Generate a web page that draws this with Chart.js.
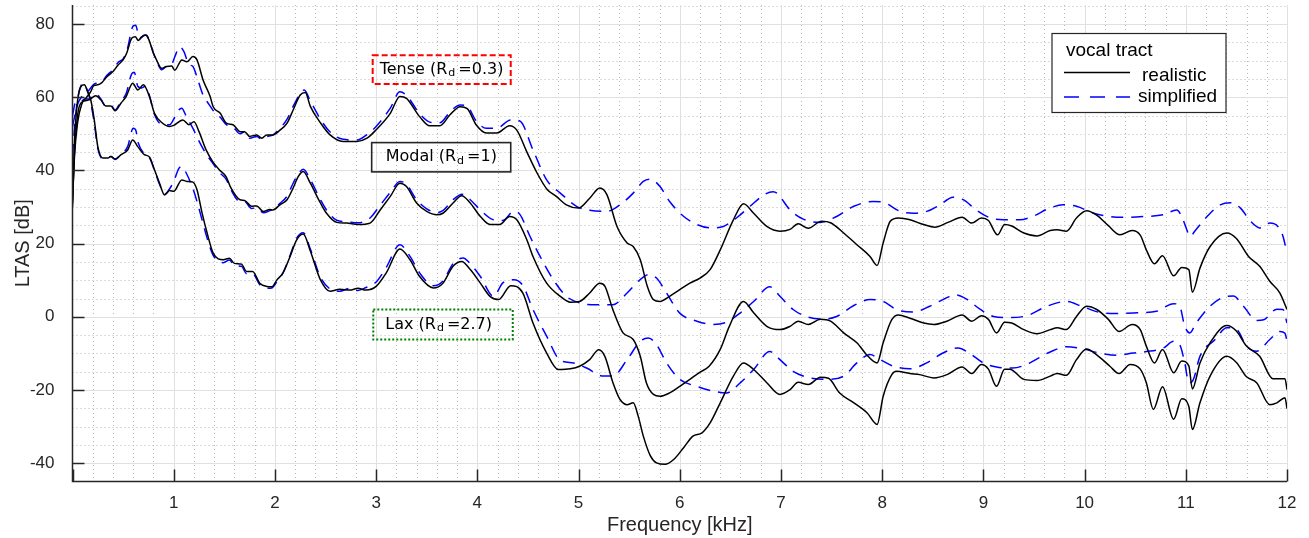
<!DOCTYPE html>
<html lang="en">
<head>
    <meta charset="UTF-8">
    <title>LTAS - realistic vs simplified vocal tract</title>
    <style>
        body {
            margin: 0;
            background: #ffffff;
        }

        #wrap {
            width: 1309px;
            height: 538px;
        }
    </style>
</head>
<body>
    <div id="wrap">
        <canvas id="ltasChart" width="1309" height="538"></canvas>
    </div>

    <script src="https://cdn.jsdelivr.net/npm/chart.js"></script>

    <script>
        // Axis ticks
        const freqTicks = [0, 1, 2, 3, 4, 5, 6, 7, 8, 9, 10, 11, 12];
        const levelTicks = [-40, -20, 0, 20, 40, 60, 80];

        // Curves: [frequency kHz, LTAS dB]
        const tenseRealistic = [
            [0, 31], [0.02, 44], [0.05, 53], [0.09, 58], [0.14, 60], [0.18, 61.5], [0.21, 63.2], [0.25, 63.4],
            [0.29, 64], [0.34, 65.6], [0.40, 67], [0.45, 68.8], [0.50, 70.2], [0.535, 72], [0.585, 76.1],
            [0.62, 76.5], [0.65, 75.5], [0.68, 76.4], [0.72, 77], [0.75, 76], [0.80, 72], [0.83, 70.2],
            [0.88, 67.9], [0.93, 68.4], [0.98, 68.5], [1.01, 67.4], [1.08, 70.2], [1.13, 69.7], [1.19, 71.1],
            [1.23, 70.2], [1.29, 64.7], [1.36, 60.2], [1.39, 57.4], [1.46, 55.6], [1.52, 52.9], [1.59, 52.4],
            [1.655, 50.6], [1.70, 50.6], [1.75, 49.3], [1.82, 49.7], [1.87, 48.8], [1.92, 49.7], [1.98, 49.7],
            [2.05, 51], [2.12, 52.9], [2.18, 56.5], [2.25, 60.6], [2.30, 61.3], [2.35, 57.5], [2.45, 53],
            [2.545, 49.7], [2.675, 47.9], [2.81, 47.9], [2.91, 48.8], [3.0, 51.1], [3.14, 55.6], [3.235, 60.2],
            [3.30, 59.7], [3.43, 54.7], [3.53, 52.2], [3.63, 52.2], [3.73, 55.2], [3.83, 57.4], [3.90, 56.9],
            [3.99, 52.4], [4.09, 50.2], [4.19, 50.2], [4.32, 52.2], [4.39, 51], [4.49, 45], [4.59, 39.3],
            [4.69, 34.8], [4.78, 32.9], [4.88, 30.6], [5.0, 29.7], [5.11, 32.4], [5.21, 35.2], [5.28, 33.4],
            [5.38, 24.7], [5.48, 20.2], [5.54, 19.2], [5.61, 15.6], [5.68, 8.3], [5.74, 4.7], [5.805, 4.2],
            [5.90, 5.6], [6.0, 7.4], [6.10, 9.2], [6.20, 10.6], [6.30, 12.9], [6.40, 18.3], [6.53, 26.5],
            [6.63, 30.9], [6.73, 28.3], [6.86, 24.7], [6.99, 23.4], [7.09, 23.9], [7.17, 25.4], [7.27, 24.2],
            [7.40, 26.1], [7.49, 25.7], [7.62, 22.9], [7.75, 19.7], [7.88, 16.5], [7.95, 14.0], [8.01, 20.2],
            [8.08, 26.1], [8.16, 27.0], [8.275, 26.5], [8.41, 25.2], [8.52, 24.5], [8.65, 25.8], [8.79, 27.2],
            [8.885, 25.6], [8.98, 27.0], [9.05, 26.3], [9.14, 22.4], [9.21, 25.2], [9.28, 24.8], [9.40, 22.9],
            [9.53, 22.1], [9.66, 23.6], [9.73, 23.8], [9.82, 23.4], [9.92, 27.0], [10.02, 29.0], [10.12, 27.8],
            [10.235, 24.9], [10.35, 22.4], [10.47, 23.6], [10.55, 22.3], [10.61, 18.3], [10.69, 14.5],
            [10.77, 16.7], [10.88, 11.2], [10.96, 13.5], [11.03, 12.9], [11.065, 6.7], [11.14, 13.3],
            [11.24, 19.2], [11.405, 22.9], [11.50, 21.4], [11.62, 16.5], [11.73, 13.8], [11.83, 9.7],
            [11.93, 6.5], [12.0, 2.0]
        ];
        const modalRealistic = [
            [0, 32], [0.02, 45], [0.067, 57.5], [0.12, 59], [0.165, 59.3], [0.23, 60.4], [0.28, 59.3],
            [0.33, 57.6], [0.38, 57.6], [0.42, 56.3], [0.48, 58.4], [0.53, 60.2], [0.595, 63.8], [0.645, 62],
            [0.70, 63.4], [0.76, 60.2], [0.81, 55.6], [0.89, 52.9], [0.96, 52], [1.0, 52.3], [1.09, 53.8],
            [1.15, 52.5], [1.20, 53.3], [1.25, 50.6], [1.32, 45.6], [1.385, 42.4], [1.45, 40.2], [1.52, 38.2],
            [1.56, 35.5], [1.655, 32], [1.70, 31.8], [1.77, 30.2], [1.82, 30.3], [1.885, 28.8], [1.95, 29.3],
            [1.98, 29.2], [2.05, 30.6], [2.12, 32], [2.18, 35.2], [2.23, 38.3], [2.28, 39.7], [2.35, 36.5],
            [2.45, 31.1], [2.51, 28.3], [2.61, 25.8], [2.71, 25.6], [2.82, 25.2], [2.94, 25.6], [3.04, 29.2],
            [3.14, 32.9], [3.235, 36.5], [3.30, 35.6], [3.40, 31.1], [3.50, 28.8], [3.60, 27.9], [3.66, 28.3],
            [3.76, 31.1], [3.845, 33.1], [3.93, 31.1], [4.03, 27.4], [4.125, 25.2], [4.22, 25.2], [4.32, 27.4],
            [4.39, 26.5], [4.49, 21], [4.55, 16.5], [4.685, 9.2], [4.82, 5.6], [4.92, 4.0], [5.01, 4.2],
            [5.11, 6.5], [5.21, 9.2], [5.26, 8.4], [5.34, 1.9], [5.44, -4.4], [5.54, -6.2], [5.61, -10.8],
            [5.67, -18], [5.74, -21.2], [5.805, -21.7], [5.90, -20.8], [6.0, -19], [6.10, -17.1], [6.19, -15.3],
            [6.29, -13.5], [6.40, -8.9], [6.49, -2.6], [6.63, 4.2], [6.73, 1.1], [6.86, -2.6], [6.99, -3.5],
            [7.09, -2.6], [7.17, -1.2], [7.27, -2.1], [7.39, -0.7], [7.49, -1.2], [7.62, -4.4], [7.75, -7.1],
            [7.86, -10.8], [7.95, -12.6], [8.01, -7.1], [8.095, -0.8], [8.16, 0.5], [8.275, -0.4], [8.41, -1.7],
            [8.51, -2.1], [8.64, -1.2], [8.79, 0.5], [8.885, -1.2], [8.98, 0.3], [9.05, -0.7], [9.13, -4.4],
            [9.21, -1.5], [9.28, -1.7], [9.40, -3.5], [9.53, -4.6], [9.66, -3.5], [9.73, -3.0], [9.82, -3.5],
            [9.92, 0.1], [10.02, 2.9], [10.12, 2.0], [10.235, -0.7], [10.34, -4.0], [10.47, -2.1], [10.55, -3.5],
            [10.61, -8.0], [10.69, -12.6], [10.77, -8.9], [10.88, -15.3], [10.96, -12.1], [11.03, -13.4],
            [11.065, -19.7], [11.14, -12.6], [11.24, -7.1], [11.405, -2.4], [11.50, -3.9], [11.60, -8.0],
            [11.73, -10.8], [11.86, -16.9], [11.98, -16.9], [12.0, -19.9]
        ];
        const laxRealistic = [
            [0, 30], [0.02, 48], [0.05, 59], [0.085, 63], [0.117, 63.4], [0.15, 61.5], [0.18, 59.3],
            [0.215, 53.8], [0.25, 46.5], [0.30, 43.4], [0.35, 43.4], [0.38, 43.8], [0.42, 43.1], [0.48, 44.3],
            [0.545, 45.6], [0.595, 48.3], [0.645, 46.5], [0.71, 44.3], [0.76, 43.7], [0.81, 40.2], [0.86, 36.5],
            [0.91, 33.3], [0.96, 34.5], [1.0, 34.3], [1.08, 37.4], [1.13, 37.0], [1.19, 36.8], [1.23, 34.7],
            [1.28, 28.4], [1.33, 22.9], [1.39, 17.4], [1.49, 15.6], [1.55, 16], [1.60, 14.6], [1.67, 14.4],
            [1.72, 12.4], [1.78, 12.4], [1.85, 9.2], [1.92, 8.3], [1.97, 8.2], [2.02, 10.1], [2.08, 12],
            [2.15, 16.5], [2.215, 21], [2.28, 22.6], [2.35, 18], [2.45, 10.1], [2.545, 7], [2.64, 7.5],
            [2.74, 7.3], [2.82, 7.8], [2.9, 7.3], [3.0, 8.3], [3.10, 12], [3.235, 18.5], [3.335, 15.6],
            [3.43, 11], [3.565, 7.9], [3.66, 9.2], [3.76, 13.8], [3.845, 15.1], [3.93, 12.9], [4.03, 9.2],
            [4.125, 5.6], [4.21, 4.7], [4.33, 8.5], [4.45, 6.5], [4.55, -1.7], [4.685, -9.9], [4.80, -14.4],
            [4.92, -14.2], [5.01, -13.5], [5.11, -11.7], [5.20, -9], [5.26, -10.8], [5.34, -18], [5.41, -22.6],
            [5.48, -24], [5.54, -23.5], [5.59, -27.2], [5.64, -32.6], [5.71, -38], [5.77, -39.9], [5.855, -40.3],
            [5.94, -39], [6.04, -35.7], [6.13, -32.6], [6.22, -31.7], [6.30, -29], [6.40, -23.5], [6.53, -16.2],
            [6.63, -12.6], [6.73, -14.4], [6.86, -18], [6.99, -21.2], [7.09, -19.9], [7.17, -17.9], [7.27, -18.5],
            [7.39, -16.5], [7.47, -16.8], [7.58, -20.8], [7.72, -23.5], [7.85, -26.2], [7.95, -29.4], [8.01, -21.7],
            [8.095, -15.8], [8.14, -14.9], [8.275, -15.5], [8.37, -15.8], [8.51, -16.7], [8.64, -15.8],
            [8.79, -13.7], [8.885, -15.5], [8.98, -13], [9.05, -14.3], [9.13, -19], [9.21, -14.3], [9.26, -14.3],
            [9.40, -17.1], [9.53, -17.4], [9.66, -16.2], [9.73, -15.5], [9.82, -16], [9.92, -11.7], [10.02, -8.8],
            [10.12, -10.4], [10.25, -13.5], [10.34, -15.5], [10.45, -13], [10.55, -14.3], [10.61, -18],
            [10.68, -25.3], [10.77, -19.1], [10.88, -28], [10.96, -22.4], [11.03, -24.5], [11.065, -30.8],
            [11.14, -23.5], [11.24, -16.2], [11.405, -10.8], [11.50, -12.5], [11.60, -16.4], [11.70, -18],
            [11.83, -24], [11.90, -23.5], [11.98, -22.1], [12.0, -25.1]
        ];
        const tenseSimplified = [
            [0, 52], [0.05, 58], [0.10, 60.5], [0.15, 61.5], [0.21, 63.5], [0.25, 64], [0.30, 64.5], [0.34, 66],
            [0.40, 67.5], [0.45, 69.5], [0.50, 70.5], [0.54, 73], [0.60, 79.5], [0.625, 79.7], [0.65, 77],
            [0.67, 76], [0.70, 76.8], [0.73, 77], [0.76, 75.5], [0.80, 72], [0.83, 70], [0.88, 67.5],
            [0.93, 68.5], [0.98, 69], [1.01, 71], [1.06, 73.8], [1.10, 72.5], [1.15, 69], [1.19, 68.4],
            [1.23, 65.5], [1.29, 60.6], [1.35, 58], [1.40, 56], [1.46, 54.5], [1.52, 52.5], [1.59, 51.8],
            [1.655, 50], [1.70, 50.5], [1.75, 48.8], [1.82, 49.3], [1.87, 48.5], [1.92, 49.2], [1.98, 49.7],
            [2.05, 51.5], [2.12, 54], [2.18, 57.5], [2.25, 61], [2.29, 62], [2.35, 59], [2.45, 54], [2.545, 50.5],
            [2.675, 48.5], [2.81, 48.3], [2.91, 49.8], [3.0, 52], [3.14, 57], [3.235, 61.5], [3.30, 60.5],
            [3.43, 55.5], [3.53, 53.2], [3.63, 53], [3.73, 56], [3.83, 57.9], [3.90, 57.5], [3.99, 53.5],
            [4.09, 51.5], [4.19, 51.5], [4.33, 53.8], [4.42, 53.5], [4.55, 45.6], [4.685, 37.4], [4.82, 33.8],
            [4.98, 30.2], [5.11, 29.1], [5.28, 28.8], [5.41, 30.6], [5.54, 33.8], [5.64, 37], [5.71, 37.6],
            [5.805, 35.6], [5.90, 31.5], [6.04, 27.4], [6.17, 25.2], [6.30, 24.3], [6.43, 24.7], [6.56, 27],
            [6.695, 30.2], [6.83, 33.3], [6.92, 34.2], [6.96, 33.8], [7.09, 29.2], [7.22, 26.7], [7.39, 25.8],
            [7.55, 27.4], [7.72, 30.2], [7.91, 31.5], [8.01, 31.3], [8.18, 28.8], [8.31, 28.3], [8.44, 28.8],
            [8.57, 30.6], [8.70, 32.7], [8.80, 32], [8.93, 29.2], [9.07, 27], [9.20, 26.5], [9.36, 26.5],
            [9.50, 27.6], [9.63, 29.4], [9.79, 30.6], [9.92, 30.2], [10.09, 28.3], [10.25, 27.4], [10.42, 27.2],
            [10.58, 27.4], [10.78, 27.9], [10.91, 29.2], [10.96, 27.4], [11.01, 23.8], [11.04, 22.0], [11.10, 23.8],
            [11.21, 27.4], [11.34, 30.6], [11.44, 31.2], [11.54, 29.7], [11.64, 26.1], [11.73, 24.3], [11.83, 25.6],
            [11.91, 24.7], [11.96, 22.0], [12.0, 17.4]
        ];
        const modalSimplified = [
            [0, 55], [0.03, 58.5], [0.07, 58.5], [0.12, 59.5], [0.17, 59.5], [0.23, 61], [0.28, 59.5], [0.33, 57.5],
            [0.38, 57.8], [0.42, 56.5], [0.48, 59], [0.53, 61], [0.585, 66.4], [0.61, 66.8], [0.645, 63],
            [0.68, 62.5], [0.72, 63], [0.76, 60.5], [0.81, 55.3], [0.89, 52.5], [0.96, 52.5], [1.0, 54],
            [1.05, 56.5], [1.08, 57], [1.12, 55], [1.19, 51.5], [1.25, 48], [1.32, 44.5], [1.385, 42], [1.45, 39.5],
            [1.52, 37.5], [1.56, 35], [1.655, 31.5], [1.70, 31.5], [1.77, 29.6], [1.82, 29.8], [1.885, 28.4],
            [1.95, 29.0], [1.98, 29.4], [2.05, 31], [2.12, 33], [2.18, 36.5], [2.23, 39], [2.28, 40.3],
            [2.35, 37.5], [2.45, 32], [2.51, 29.2], [2.61, 26.4], [2.71, 26], [2.82, 25.7], [2.94, 27],
            [3.04, 30.5], [3.14, 34], [3.235, 37], [3.30, 36.2], [3.40, 32], [3.50, 29.5], [3.60, 28.5],
            [3.66, 29], [3.76, 32], [3.85, 33.5], [3.93, 32], [4.03, 29.2], [4.16, 26.5], [4.25, 26.3],
            [4.36, 28.8], [4.42, 28], [4.52, 22], [4.62, 16.5], [4.75, 10.2], [4.88, 5.6], [5.01, 3.8],
            [5.18, 3.3], [5.34, 3.3], [5.48, 6.5], [5.61, 10.2], [5.69, 11.5], [5.77, 10.6], [5.87, 6.5],
            [6.0, 1.0], [6.17, -1.2], [6.33, -2.1], [6.46, -1.5], [6.60, 1.1], [6.73, 4.2], [6.89, 8.2],
            [6.99, 5.6], [7.12, 2.0], [7.25, 0.1], [7.42, -0.6], [7.55, 0.1], [7.72, 3.1], [7.88, 4.7],
            [8.01, 4.2], [8.14, 2.0], [8.31, 1.3], [8.47, 2.9], [8.60, 4.7], [8.72, 6.0], [8.83, 4.9],
            [8.97, 2.0], [9.10, 0.1], [9.26, -0.2], [9.43, 0.3], [9.63, 2.9], [9.82, 4.2], [9.97, 2.9],
            [10.15, 1.2], [10.32, 0.9], [10.52, 1.1], [10.71, 1.5], [10.88, 3.6], [10.94, 2.9], [10.99, -2.6],
            [11.04, -4.4], [11.10, -1.8], [11.24, 2.9], [11.405, 5.6], [11.47, 5.7], [11.57, 2.9], [11.70, -1.0],
            [11.77, -0.8], [11.90, 2.1], [11.96, 2.0], [12.0, -1.7]
        ];
        const laxSimplified = [
            [0, 44], [0.03, 55], [0.07, 62], [0.107, 63.8], [0.15, 61.5], [0.18, 58.5], [0.215, 53], [0.25, 46],
            [0.30, 43.2], [0.35, 43.6], [0.38, 43.8], [0.42, 43], [0.48, 44.5], [0.545, 46.5], [0.60, 51.5],
            [0.625, 51], [0.65, 47.5], [0.71, 44.5], [0.76, 43.5], [0.81, 40], [0.86, 36.2], [0.91, 33.5],
            [0.96, 35], [1.0, 37], [1.05, 40.5], [1.08, 41.1], [1.12, 39.5], [1.19, 35], [1.23, 31.5],
            [1.28, 26.5], [1.33, 21.5], [1.39, 16.8], [1.49, 14.8], [1.55, 15.5], [1.60, 14], [1.67, 13.8],
            [1.72, 11.8], [1.78, 11.8], [1.85, 8.8], [1.92, 7.8], [1.97, 7.9], [2.02, 9.6], [2.08, 12],
            [2.15, 16.8], [2.215, 21.5], [2.28, 23], [2.35, 18.5], [2.45, 10.8], [2.545, 7.6], [2.64, 7.0],
            [2.74, 7.8], [2.82, 7.2], [2.9, 8], [3.0, 9.5], [3.10, 13.5], [3.235, 19.7], [3.335, 16.5],
            [3.43, 12], [3.565, 8.5], [3.66, 9.8], [3.76, 14.5], [3.86, 16.1], [3.93, 14.5], [4.03, 11],
            [4.16, 5.6], [4.25, 9.2], [4.36, 10.1], [4.45, 8.5], [4.55, 2.0], [4.685, -5.3], [4.82, -11.9],
            [4.95, -12.6], [5.08, -14], [5.245, -16.2], [5.34, -16.2], [5.48, -11.7], [5.61, -6.7], [5.69, -5.8],
            [5.77, -7.6], [5.87, -12.6], [6.0, -17.1], [6.17, -19], [6.33, -20.3], [6.46, -20.8], [6.60, -18],
            [6.73, -14.4], [6.89, -9.5], [6.99, -11.7], [7.12, -14.9], [7.29, -16.7], [7.45, -17.1], [7.62, -16.2],
            [7.75, -12.6], [7.88, -10.3], [7.98, -11.7], [8.11, -13.5], [8.275, -14.2], [8.44, -12.6],
            [8.60, -9.9], [8.75, -8.5], [8.86, -9.9], [9.0, -12.6], [9.13, -13.7], [9.29, -14.0], [9.46, -12.6],
            [9.53, -11.5], [9.66, -9.6], [9.82, -8.2], [9.97, -8.7], [10.15, -9.9], [10.32, -10.5], [10.48, -9.9],
            [10.61, -9.5], [10.78, -8.5], [10.88, -6.7], [10.94, -7.6], [10.99, -12.6], [11.03, -18], [11.07, -17.4],
            [11.14, -10.8], [11.29, -6.2], [11.405, -3.0], [11.50, -3.4], [11.60, -8.0], [11.70, -9.4],
            [11.83, -6.2], [11.93, -4.0], [11.98, -4.5], [12.0, -6.7]
        ];

        const axisColor = '#262626';
        const sansFont = '"Liberation Sans", Arial, Helvetica, sans-serif';
        const noteFont = '"DejaVu Sans", sans-serif';

        function toPoints(curve) {
            return curve.map(p => ({ x: p[0], y: p[1] }));
        }

        function lineSet(label, curve, color, dashed) {
            return {
                label: label,
                data: toPoints(curve),
                borderColor: color,
                borderWidth: 1.5,
                borderDash: dashed ? [12, 8] : [],
                pointRadius: 0,
                fill: false,
                cubicInterpolationMode: 'monotone'
            };
        }

        // Text boxes (corners given in kHz / dB)
        const notes = [
            { pre: 'Tense (R', post: '=0.3)', x0: 2.966, x1: 4.33, y0: 71.5, y1: 63.6, pad: 7, color: '#ff0000', dash: [6, 3], width: 2 },
            { pre: 'Modal (R', post: '=1)', x0: 2.956, x1: 4.33, y0: 47.6, y1: 39.6, pad: 14, color: '#262626', dash: [], width: 1.6 },
            { pre: 'Lax (R', post: '=2.7)', x0: 2.972, x1: 4.35, y0: 2.0, y1: -6.2, pad: 12, color: '#008000', dash: [2, 2], width: 2 }
        ];

        const matlabLook = {
            id: 'matlabLook',
            beforeDatasetsDraw(chart) {
                const { ctx, chartArea: a, scales: { x, y } } = chart;
                ctx.save();
                ctx.lineWidth = 1;

                // minor dotted grid
                ctx.strokeStyle = '#b8b8b8';
                ctx.setLineDash([1, 3]);
                ctx.beginPath();
                for (let k = 1; k < 60; k++) {
                    if (k % 5 === 0) continue;
                    const px = Math.round(x.getPixelForValue(k * 0.2)) + 0.5;
                    ctx.moveTo(px, a.top);
                    ctx.lineTo(px, a.bottom);
                }
                for (let v = -40; v <= 85; v += 5) {
                    if (v % 20 === 0) continue;
                    const py = Math.round(y.getPixelForValue(v)) + 0.5;
                    ctx.moveTo(a.left, py);
                    ctx.lineTo(a.right, py);
                }
                ctx.stroke();

                // major grid
                ctx.setLineDash([]);
                ctx.strokeStyle = '#e0e0e0';
                ctx.beginPath();
                freqTicks.forEach(f => {
                    if (f === 0) return;
                    const px = Math.round(x.getPixelForValue(f)) + 0.5;
                    ctx.moveTo(px, a.top);
                    ctx.lineTo(px, a.bottom);
                });
                levelTicks.forEach(v => {
                    const py = Math.round(y.getPixelForValue(v)) + 0.5;
                    ctx.moveTo(a.left, py);
                    ctx.lineTo(a.right, py);
                });
                ctx.stroke();
                ctx.restore();
            },
            afterDatasetsDraw(chart) {
                const { ctx, scales: { x, y } } = chart;
                ctx.save();
                notes.forEach(n => {
                    const l = x.getPixelForValue(n.x0), r = x.getPixelForValue(n.x1);
                    const t = y.getPixelForValue(n.y0), b = y.getPixelForValue(n.y1);
                    ctx.strokeStyle = n.color;
                    ctx.lineWidth = n.width;
                    ctx.setLineDash(n.dash);
                    ctx.strokeRect(l, t, r - l, b - t);
                    ctx.setLineDash([]);

                    const mid = (t + b) / 2;
                    ctx.fillStyle = '#000000';
                    ctx.textBaseline = 'middle';
                    ctx.textAlign = 'left';
                    ctx.font = '16px ' + noteFont;
                    let cx = l + n.pad;
                    ctx.fillText(n.pre, cx, mid);
                    cx += ctx.measureText(n.pre).width + 1;
                    ctx.font = '11px ' + noteFont;
                    ctx.fillText('d', cx, mid + 4);
                    cx += ctx.measureText('d').width + 3;
                    ctx.font = '16px ' + noteFont;
                    ctx.fillText(n.post, cx, mid);
                });
                ctx.restore();
            },
            afterDraw(chart) {
                const { ctx, chartArea: a, scales: { x, y } } = chart;
                ctx.save();

                // axis lines and inward ticks
                ctx.strokeStyle = axisColor;
                ctx.lineWidth = 1.5;
                ctx.beginPath();
                ctx.moveTo(a.left, a.top);
                ctx.lineTo(a.left, a.bottom);
                ctx.lineTo(a.right, a.bottom);
                freqTicks.forEach(f => {
                    const px = Math.round(x.getPixelForValue(f)) + 0.5;
                    ctx.moveTo(px, a.bottom);
                    ctx.lineTo(px, a.bottom - 12);
                });
                levelTicks.forEach(v => {
                    const py = Math.round(y.getPixelForValue(v)) + 0.5;
                    ctx.moveTo(a.left, py);
                    ctx.lineTo(a.left + 12, py);
                });
                ctx.stroke();

                // legend
                const lx = 1052, ly = 33.5, lw = 174, lh = 79;
                ctx.fillStyle = '#ffffff';
                ctx.fillRect(lx, ly, lw, lh);
                ctx.strokeStyle = axisColor;
                ctx.lineWidth = 1.2;
                ctx.strokeRect(lx, ly, lw, lh);

                ctx.fillStyle = '#000000';
                ctx.font = '19px ' + sansFont;
                ctx.textAlign = 'left';
                ctx.textBaseline = 'alphabetic';
                ctx.fillText('vocal tract', 1066, 56);
                ctx.fillText('realistic', 1142, 81);
                ctx.fillText('simplified', 1138, 102);

                ctx.lineWidth = 1.5;
                ctx.strokeStyle = '#000000';
                ctx.beginPath();
                ctx.moveTo(1064, 72.5);
                ctx.lineTo(1130, 72.5);
                ctx.stroke();
                ctx.strokeStyle = '#0000ff';
                ctx.setLineDash([15, 11]);
                ctx.beginPath();
                ctx.moveTo(1064, 97);
                ctx.lineTo(1130, 97);
                ctx.stroke();
                ctx.restore();
            }
        };

        const ctx = document.getElementById('ltasChart').getContext('2d');
        const ltasChart = new Chart(ctx, {
            type: 'line',
            data: {
                datasets: [
                    lineSet('Tense realistic', tenseRealistic, '#000000', false),
                    lineSet('Modal realistic', modalRealistic, '#000000', false),
                    lineSet('Lax realistic', laxRealistic, '#000000', false),
                    lineSet('Tense simplified', tenseSimplified, '#0000ff', true),
                    lineSet('Modal simplified', modalSimplified, '#0000ff', true),
                    lineSet('Lax simplified', laxSimplified, '#0000ff', true)
                ]
            },
            options: {
                responsive: false,
                animation: false,
                devicePixelRatio: 1,
                layout: {
                    padding: { top: 5, right: 22, left: 0, bottom: 0 }
                },
                plugins: {
                    legend: { display: false },
                    tooltip: { enabled: false }
                },
                scales: {
                    x: {
                        type: 'linear',
                        min: 0,
                        max: 12,
                        afterBuildTicks: s => { s.ticks = freqTicks.map(v => ({ value: v })); },
                        afterFit: s => {
                            s.height = 56.5;
                            s.paddingLeft = 0;
                            s.paddingRight = 0;
                        },
                        grid: { display: false },
                        border: { display: false },
                        ticks: {
                            color: axisColor,
                            padding: 4,
                            maxRotation: 0,
                            font: { family: sansFont, size: 17 },
                            callback: v => (v === 0 ? '' : v)
                        },
                        title: {
                            display: true,
                            text: 'Frequency [kHz]',
                            color: axisColor,
                            font: { family: sansFont, size: 20 },
                            padding: { top: 0, bottom: 1 }
                        }
                    },
                    y: {
                        min: -45,
                        max: 85.2,
                        afterBuildTicks: s => { s.ticks = levelTicks.map(v => ({ value: v })); },
                        afterFit: s => {
                            s.width = 72.5;
                            s.paddingTop = 0;
                            s.paddingBottom = 0;
                        },
                        grid: { display: false },
                        border: { display: false },
                        ticks: {
                            color: axisColor,
                            padding: 10,
                            font: { family: sansFont, size: 17 }
                        },
                        title: {
                            display: true,
                            text: 'LTAS [dB]',
                            color: axisColor,
                            font: { family: sansFont, size: 20 },
                            padding: { top: 11, bottom: 0 }
                        }
                    }
                }
            },
            plugins: [matlabLook]
        });
    </script>
</body>
</html>
